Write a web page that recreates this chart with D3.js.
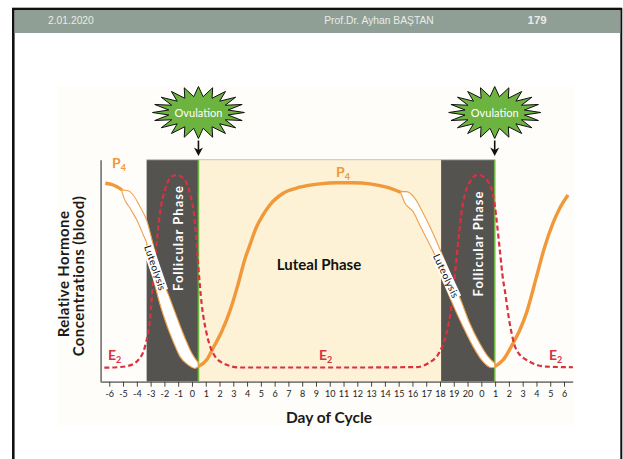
<!DOCTYPE html>
<html>

<head>
  <meta charset="utf-8" />
  <title>Day of Cycle</title>
  <style>
    body { margin: 0; background: #fff; }
    svg { display: block; }
    text { font-family: Lato, "Open Sans", sans-serif; }
    .slide-text { font-family: "Liberation Sans", Arial, sans-serif; fill: #e8ece8; font-size: 10.3px; }
    .follicular { fill: #fff; font-weight: 700; font-size: 13px; letter-spacing: 1px; }
    .hormone { font-weight: 700; font-size: 14px; }
    .ytitle { font-weight: 700; font-size: 15px; letter-spacing: 0.4px; fill: #1a1a1a; }
  </style>
  <script src="https://cdnjs.cloudflare.com/ajax/libs/d3/7.8.5/d3.min.js"></script>
</head>

<body>
  <div id="chartArea"></div>
  <script>
    // tick labels, one for each axis position 0..33
    var dayLabels = ['-6', '-5', '-4', '-3', '-2', '-1', '0', '1', '2', '3', '4', '5', '6', '7', '8', '9', '10', '11', '12',
      '13', '14', '15', '16', '17', '18', '19', '20', '0', '1', '2', '3', '4', '5', '6'];

    // values: x is axis position, y is relative level 0..100
    var p4Start = [[-0.29, 89.4], [0.29, 88.6], [0.92, 86.4]];
    var p4FallUpper1 = [[0.92, 86.4], [1.38, 86.0], [1.74, 84.1], [2.23, 78.8], [2.71, 72.8], [3.19, 61.6], [3.63, 50.3],
      [4.35, 38.3], [4.89, 29.3], [5.49, 19.7], [5.98, 12.9], [6.45, 8.6]];
    var p4FallLower1 = [[0.92, 85.6], [1.07, 82.7], [1.50, 78.2], [1.99, 72.9], [2.47, 66.1], [2.71, 62.5], [3.08, 50.3],
      [3.55, 37.7], [4.04, 27.8], [4.64, 18.0], [5.13, 11.3], [5.73, 7.5], [6.22, 6.0], [6.45, 6.8]];
    var p4Rise = [[6.45, 6.8], [7.06, 9.8], [7.54, 15.2], [8.15, 22.5], [8.75, 31.8], [9.33, 43.5], [9.84, 55.2], [10.2, 61.5],
      [10.69, 69.8], [11.15, 75.0], [11.65, 79.6], [12.62, 84.9], [13.83, 87.6], [15.28, 89.1], [16.49, 89.6], [17.67, 89.6],
      [18.91, 89.1], [20.12, 87.6], [21.16, 85.3]];
    var p4FallUpper2 = [[21.16, 85.6], [21.57, 85.6], [22.17, 82.7], [22.77, 76.0], [23.38, 68.3], [24.11, 58.0], [24.83, 47.3],
      [25.56, 36.0], [26.16, 26.3], [26.88, 17.3], [27.49, 11.3], [27.97, 8.3]];
    var p4FallLower2 = [[21.16, 84.9], [21.45, 80.5], [22.05, 76.6], [22.53, 70.6], [23.14, 63.1], [23.62, 57.1], [24.22, 45.8],
      [24.95, 34.5], [25.67, 24.8], [26.40, 15.8], [27.12, 9.0], [27.73, 6.3], [27.97, 6.5]];
    var p4End = [[27.97, 6.8], [28.58, 9.8], [29.30, 17.3], [29.79, 23.3], [30.27, 30.9], [31.0, 47.2], [31.53, 59.3],
      [32.2, 71.4], [32.69, 78.1], [33.29, 84.1]];
    var e2Values = [[-0.36, 6.3], [0.54, 6.5], [1.38, 7.1], [2.10, 9.8], [2.59, 15.8], [2.95, 27.8], [3.19, 45.8], [3.44, 62.3],
      [3.68, 76.0], [4.04, 86.4], [4.40, 91.6], [4.84, 93.1], [5.37, 91.6], [5.85, 84.9], [6.22, 71.4], [6.45, 52.6], [6.70, 35.3],
      [7.06, 21.8], [7.54, 12.8], [8.27, 8.3], [9.48, 6.4], [13.83, 6.4], [18.18, 6.4], [22.30, 6.6], [23.14, 8.3], [23.98, 13.5],
      [24.47, 21.8], [24.83, 33.8], [25.07, 47.3], [25.31, 62.3], [25.56, 76.0], [26.04, 88.6], [26.76, 93.2], [27.49, 90.1],
      [27.92, 81.8], [28.21, 67.0], [28.34, 59.3], [28.58, 45.8], [28.70, 41.3], [29.06, 26.3], [29.55, 14.3], [30.51, 9.0],
      [31.72, 6.8], [33.65, 6.5]];

    // phase bands as axis positions
    var follicularBands = [[2.71, 6.47], [24.08, 27.97]];
    var lutealBand = [6.47, 24.08];
    var ovulationDays = [6.47, 27.97];

    var width = 623, height = 459;

    var svg = d3.select('#chartArea').append('svg')
      .attr('width', width)
      .attr('height', height);

    // slide frame and header
    svg.append('rect').attr('x', 12).attr('y', 7).attr('width', 610).attr('height', 1.2).attr('fill', '#b5b5b5');
    svg.append('rect').attr('x', 12).attr('y', 8).attr('width', 610).attr('height', 2.4).attr('fill', '#111');
    svg.append('rect').attr('x', 12).attr('y', 8).attr('width', 2.6).attr('height', 451).attr('fill', '#111');
    svg.append('rect').attr('x', 620.3).attr('y', 8).attr('width', 2).attr('height', 451).attr('fill', '#111');
    svg.append('rect').attr('x', 14.6).attr('y', 10).attr('width', 605.7).attr('height', 23).attr('fill', '#909f95');
    svg.append('text').attr('class', 'slide-text').attr('x', 48).attr('y', 24).text('2.01.2020');
    svg.append('text').attr('class', 'slide-text').attr('x', 379).attr('y', 24).attr('text-anchor', 'middle').text('Prof.Dr. Ayhan BAŞTAN');
    svg.append('text').attr('class', 'slide-text').attr('x', 527.5).attr('y', 24).style('font-weight', 700).style('font-size', '11.5px').text('179');

    // ivory panel behind the figure
    svg.append('rect').attr('x', 57.5).attr('y', 86).attr('width', 516.5).attr('height', 339.5).attr('fill', '#fefdf9');

    var x = d3.scaleLinear().domain([-0.63, 33.63]).range([100.6, 572.7]);
    var y = d3.scaleLinear().domain([0, 100]).range([381.7, 159.7]);

    var line = d3.line()
      .x(d => x(d[0]))
      .y(d => y(d[1]))
      .curve(d3.curveMonotoneX);

    svg.append('rect')
      .attr('x', x(lutealBand[0])).attr('y', y(100))
      .attr('width', x(lutealBand[1]) - x(lutealBand[0])).attr('height', y(0) - y(100))
      .attr('fill', '#fdf1d6');

    svg.selectAll('.follicular-band').data(follicularBands).enter().append('rect')
      .attr('class', 'follicular-band')
      .attr('x', d => x(d[0])).attr('y', y(100))
      .attr('width', d => x(d[1]) - x(d[0])).attr('height', y(0) - y(100))
      .attr('fill', '#545350');

    svg.append('line')
      .attr('x1', x(follicularBands[0][0])).attr('x2', x(follicularBands[1][1]))
      .attr('y1', y(100)).attr('y2', y(100))
      .attr('stroke', '#c4c4c0').attr('stroke-width', 1);

    // green ovulation lines
    svg.selectAll('.ovulation-line').data(ovulationDays).enter().append('line')
      .attr('class', 'ovulation-line')
      .attr('x1', d => x(d)).attr('x2', d => x(d))
      .attr('y1', y(100)).attr('y2', y(0))
      .attr('stroke', '#6fb544').attr('stroke-width', 1.6);

    // P4, thick parts
    [p4Start, p4Rise, p4End].forEach(pts => {
      svg.append('path').attr('d', line(pts))
        .attr('fill', 'none').attr('stroke', '#f0983a').attr('stroke-width', 3.4);
    });

    // E2
    svg.append('path').attr('d', line(e2Values))
      .attr('fill', 'none').attr('stroke', '#d9323f').attr('stroke-width', 2.2)
      .attr('stroke-dasharray', '5,3');

    // luteolysis, the white band between two P4 edges
    [[p4FallUpper1, p4FallLower1], [p4FallUpper2, p4FallLower2]].forEach(pair => {
      svg.append('path').attr('d', line(pair[0]) + 'L' + line(pair[1].slice().reverse()).slice(1) + 'Z')
        .attr('fill', '#fff').attr('stroke', '#f0a04a').attr('stroke-width', 1.1);
    });

    [[155, 268, 71], [446, 276, 65]].forEach(t => {
      var g = svg.append('g').attr('transform', 'translate(' + t[0] + ',' + t[1] + ') rotate(' + t[2] + ')');
      g.append('rect').attr('x', -24).attr('y', -5.5).attr('width', 48).attr('height', 11).attr('fill', '#fff');
      g.append('text')
        .attr('text-anchor', 'middle').attr('dy', '0.35em')
        .style('font-size', '10px').style('letter-spacing', '0.4px').attr('fill', '#111')
        .text('Luteolysis');
    });

    // axes
    var xAxis = svg.append('g')
      .attr('transform', 'translate(0,' + y(0) + ')')
      .call(d3.axisBottom(x)
        .tickValues(d3.range(dayLabels.length))
        .tickFormat(i => dayLabels[i])
        .tickSize(5)
        .tickSizeOuter(0)
        .tickPadding(4));
    xAxis.select('.domain').attr('stroke', '#808080').attr('stroke-width', 1.8);
    xAxis.selectAll('.tick line').attr('stroke', '#444');
    xAxis.selectAll('.tick text').attr('fill', '#222').style('font-size', '9px').style('font-family', 'Lato, sans-serif');

    var yAxis = svg.append('g')
      .attr('transform', 'translate(' + x(-0.63) + ',0)')
      .call(d3.axisLeft(y).tickValues([]).tickSize(0));
    yAxis.select('.domain').attr('stroke', '#808080').attr('stroke-width', 1.8);

    // ovulation stars with arrows
    var starLine = d3.line().curve(d3.curveLinearClosed);
    var starPoints = d3.range(40).map(i => {
      var a = i / 40 * 2 * Math.PI;
      var rx = i % 2 ? 30 : 46, ry = i % 2 ? 16 : 26;
      return [rx * Math.sin(a), -ry * Math.cos(a)];
    });

    ovulationDays.forEach(d => {
      var g = svg.append('g').attr('transform', 'translate(' + x(d) + ',112.5)');
      g.append('path').attr('d', starLine(starPoints))
        .attr('fill', '#6cb33f').attr('stroke', '#111').attr('stroke-width', 1);
      g.append('text').attr('text-anchor', 'middle').attr('y', 4)
        .attr('fill', '#fff').style('font-size', '11px').text('Ovulation');
      g.append('line').attr('y1', 28).attr('y2', 40).attr('stroke', '#111').attr('stroke-width', 1.6);
      g.append('path').attr('d', 'M-4.5,35 L0,43.5 L4.5,35 L0,37.5 Z').attr('fill', '#111');
    });

    // phase labels
    [[178, 238], [478, 243.5]].forEach(p => {
      svg.append('text').attr('class', 'follicular')
        .attr('transform', 'translate(' + p[0] + ',' + p[1] + ') rotate(-90)')
        .attr('text-anchor', 'middle').attr('dy', '0.35em')
        .text('Follicular Phase');
    });

    svg.append('text').attr('x', 319).attr('y', 269.5).attr('text-anchor', 'middle')
      .style('font-weight', 700).style('font-size', '15px').attr('fill', '#111').text('Luteal Phase');

    // hormone labels
    function hormoneLabel(px, py, main, sub, color) {
      var t = svg.append('text').attr('class', 'hormone').attr('x', px).attr('y', py).attr('fill', color).text(main);
      t.append('tspan').attr('dy', 3).style('font-size', '9px').text(sub);
    }
    hormoneLabel(112, 168, 'P', '4', '#f0983a');
    hormoneLabel(336, 177, 'P', '4', '#f0983a');
    hormoneLabel(108, 360, 'E', '2', '#d9323f');
    hormoneLabel(319, 360, 'E', '2', '#d9323f');
    hormoneLabel(549, 360, 'E', '2', '#d9323f');

    // axis titles
    svg.append('text').attr('class', 'ytitle').attr('text-anchor', 'middle')
      .attr('transform', 'translate(68.5,274) rotate(-90)').text('Relative Hormone');
    svg.append('text').attr('class', 'ytitle').attr('text-anchor', 'middle')
      .attr('transform', 'translate(84,276) rotate(-90)').text('Concentrations (blood)');
    svg.append('text').attr('x', 329).attr('y', 423).attr('text-anchor', 'middle')
      .style('font-weight', 700).style('font-size', '15.5px').attr('fill', '#1a1a1a').text('Day of Cycle');
  </script>
</body>

</html>
